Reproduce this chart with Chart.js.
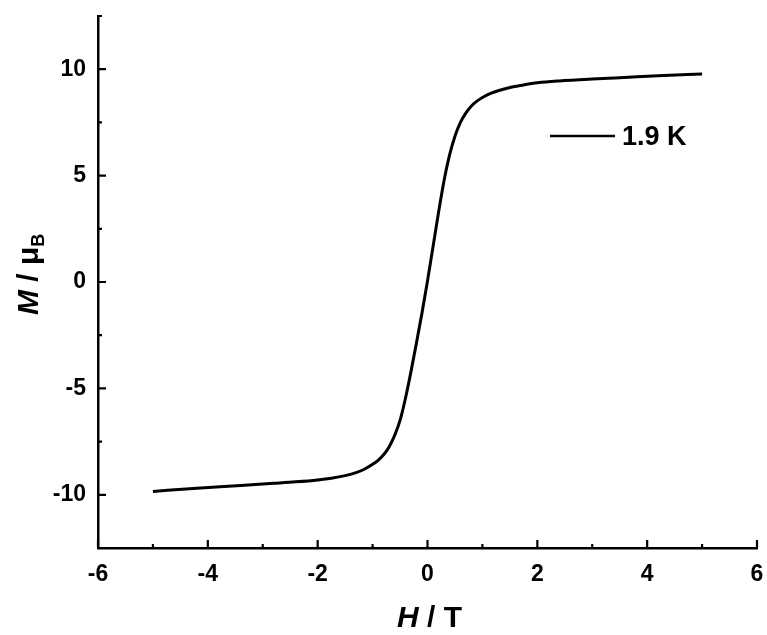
<!DOCTYPE html>
<html>
<head>
<meta charset="utf-8">
<script src="https://cdn.jsdelivr.net/npm/chart.js@4"></script>
<style>
  html, body { margin: 0; padding: 0; background: #fff; }
  #wrap { width: 767px; height: 635px; }
</style>
</head>
<body>
<div id="wrap"><canvas id="mh-chart"></canvas></div>
<script>
// magnetisation curve at 1.9 K
const fieldH = [-5, -4.2, -3.4, -2.8, -2.4, -2.0, -1.75, -1.5, -1.3, -1.15, -1.0, -0.9, -0.8, -0.7,
                -0.6, -0.5, -0.4, -0.3, -0.2, -0.1, 0, 0.1, 0.2, 0.3, 0.4, 0.5, 0.6, 0.7,
                0.8, 0.9, 1.0, 1.15, 1.3, 1.5, 1.75, 2.0, 2.4, 3.0, 3.5, 4.2, 5.0];
const moment = [-9.84, -9.69, -9.56, -9.46, -9.39, -9.3, -9.22, -9.1, -8.96, -8.8, -8.57, -8.38, -8.12, -7.75,
                -7.22, -6.5, -5.45, -4.2, -2.85, -1.45, 0.05, 1.65, 3.25, 4.75, 5.95, 6.85, 7.5, 7.95,
                8.27, 8.5, 8.67, 8.86, 9.0, 9.14, 9.26, 9.36, 9.45, 9.54, 9.6, 9.69, 9.78];
const seriesLabel = '1.9 K';

const xTicks = [-6, -4, -2, 0, 2, 4, 6];
const xMinor = [-5, -3, -1, 1, 3, 5];
const yTicks = [-10, -5, 0, 5, 10];
const yMinor = [-7.5, -2.5, 2.5, 7.5, 12.5];

const FONT = '"Liberation Sans", Arial, sans-serif';

// inward tick marks, axis titles and the legend
const decorations = {
  id: 'decorations',
  afterDraw(chart) {
    const ctx = chart.ctx;
    const xs = chart.scales.x, ys = chart.scales.y;
    const a = chart.chartArea;
    ctx.save();
    ctx.strokeStyle = '#000';
    ctx.lineWidth = 2.2;
    ctx.beginPath();
    xTicks.forEach(v => { const px = xs.getPixelForValue(v); ctx.moveTo(px, a.bottom); ctx.lineTo(px, a.bottom - 8); });
    xMinor.forEach(v => { const px = xs.getPixelForValue(v); ctx.moveTo(px, a.bottom); ctx.lineTo(px, a.bottom - 4); });
    yTicks.forEach(v => { const py = ys.getPixelForValue(v); ctx.moveTo(a.left, py); ctx.lineTo(a.left + 8, py); });
    yMinor.forEach(v => { const py = ys.getPixelForValue(v); ctx.moveTo(a.left, py); ctx.lineTo(a.left + 4, py); });
    ctx.stroke();

    ctx.fillStyle = '#000';
    ctx.textBaseline = 'alphabetic';
    ctx.textAlign = 'left';

    // x title: H / T
    let x = 397;
    ctx.font = 'italic bold 30px ' + FONT;
    ctx.fillText('H', x, 627);
    x += ctx.measureText('H').width;
    ctx.font = 'bold 30px ' + FONT;
    ctx.fillText(' / T', x, 627);

    // y title: M / μB
    ctx.translate(38, 315);
    ctx.rotate(-Math.PI / 2);
    let u = 0;
    ctx.font = 'italic bold 30px ' + FONT;
    ctx.fillText('M', u, 0);
    u += ctx.measureText('M').width;
    ctx.font = 'bold 30px ' + FONT;
    ctx.fillText(' / μ', u, 0);
    u += ctx.measureText(' / μ').width;
    ctx.font = 'bold 18px ' + FONT;
    ctx.fillText('B', u, 6);
    ctx.restore();

    // legend
    ctx.save();
    ctx.strokeStyle = '#000';
    ctx.lineWidth = 2.5;
    ctx.beginPath();
    ctx.moveTo(550, 136);
    ctx.lineTo(615, 136);
    ctx.stroke();
    ctx.fillStyle = '#000';
    ctx.font = 'bold 27px ' + FONT;
    ctx.textBaseline = 'middle';
    ctx.fillText(seriesLabel, 622, 138);
    ctx.restore();
  }
};

const ctx = document.getElementById('mh-chart').getContext('2d');
const chart = new Chart(ctx, {
  type: 'scatter',
  data: {
    datasets: [{
      label: seriesLabel,
      data: fieldH.map((h, i) => ({ x: h, y: moment[i] })),
      showLine: true,
      borderColor: '#000',
      borderWidth: 3,
      pointRadius: 0,
      cubicInterpolationMode: 'monotone'
    }]
  },
  options: {
    responsive: true,
    maintainAspectRatio: false,
    animation: false,
    layout: { padding: { top: 16, right: 10, left: 0, bottom: 0 } },
    plugins: { legend: { display: false }, tooltip: { enabled: false } },
    scales: {
      x: {
        type: 'linear',
        min: -6, max: 6,
        grid: { display: false, drawTicks: false },
        border: { display: true, color: '#000', width: 2.5 },
        ticks: { color: '#000', font: { family: FONT, size: 23, weight: 'bold' }, padding: 13 },
        afterBuildTicks: s => { s.ticks = xTicks.map(v => ({ value: v })); },
        afterFit: s => { s.height = 87; s.paddingLeft = 0; s.paddingRight = 0; }
      },
      y: {
        type: 'linear',
        min: -12.5, max: 12.5,
        grid: { display: false, drawTicks: false },
        border: { display: true, color: '#000', width: 2.5 },
        ticks: { color: '#000', font: { family: FONT, size: 23, weight: 'bold' }, padding: 12 },
        afterBuildTicks: s => { s.ticks = yTicks.map(v => ({ value: v })); },
        afterFit: s => { s.width = 98; s.paddingTop = 0; s.paddingBottom = 0; }
      }
    }
  },
  plugins: [decorations]
});
</script>
</body>
</html>
